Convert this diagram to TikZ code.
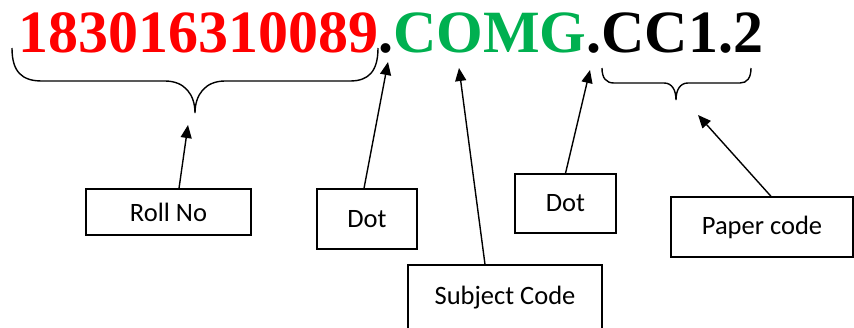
\documentclass[tikz,border=0pt]{standalone}
\usepackage{fontspec}
\usepackage{tkz-euclide}
\usetikzlibrary{arrows.meta}
\newfontfamily\codefont{Liberation Serif}[BoldFont={Liberation Serif Bold}]
\newfontfamily\calibri{Carlito}
\definecolor{rollred}{RGB}{255,0,0}
\definecolor{subjgreen}{RGB}{0,176,80}
\tikzset{
    labelbox/.style={draw, line width=1.3pt, inner sep=0pt, font=\calibri\fontsize{26.5}{30}\selectfont},
    pointer/.style={line width=1.4pt, -{Triangle[length=13pt,width=11pt]}},
    brace/.style={line width=1.4pt}
}
\begin{document}
\begin{tikzpicture}[x=1pt,y=-1pt]
    \useasboundingbox (0,0) rectangle (854,327);
    \tkzDefPoints{188/125/R, 388/62/D, 459/68/S, 590/70/E, 698/115/P}
    % the code
    \node[anchor=base west, inner sep=0pt, font=\codefont\bfseries\fontsize{60}{60}\selectfont] (code) at (18,52)
        {\textcolor{rollred}{183016310089}.\textcolor{subjgreen}{COMG}.CC1.2};
    % braces
    \draw[brace] (12,48) .. controls (12,72) and (22,81) .. (42,81) -- (165,81)
        .. controls (185,81) and (195,95) .. (195,113)
        .. controls (195,95) and (205,81) .. (225,81) -- (350,81)
        .. controls (368,81) and (378,72) .. (378,48);
    \draw[brace] (602,68) .. controls (602,78) and (606,83) .. (614,83) -- (664,83)
        .. controls (672,83) and (676,90) .. (676,100)
        .. controls (676,90) and (680,83) .. (688,83) -- (740,83)
        .. controls (747,83) and (751,78) .. (751,68);
    % boxes
    \node[labelbox, minimum width=165pt, minimum height=46pt] (roll) at (168.5,212) {Roll No};
    \node[labelbox, minimum width=100pt, minimum height=60pt] (dotA) at (367,219) {Dot};
    \node[labelbox, minimum width=194pt, minimum height=66pt] (subj) at (505,298) {Subject Code};
    \node[labelbox, minimum width=101pt, minimum height=59pt] (dotB) at (565.5,203.5) {Dot};
    \node[labelbox, minimum width=182pt, minimum height=60pt] (paper) at (762,227) {Paper code};
    % arrows
    \draw[pointer] ([xshift=10.5pt]roll.north) -- (R);
    \draw[pointer] ([xshift=-3pt]dotA.north) -- (D);
    \draw[pointer] ([xshift=-20pt]subj.north) -- (S);
    \draw[pointer] (dotB.north) -- (E);
    \draw[pointer] ([xshift=9pt]paper.north) -- (P);
\end{tikzpicture}
\end{document}
